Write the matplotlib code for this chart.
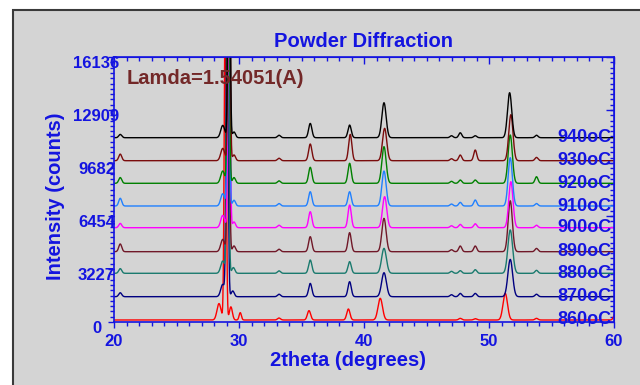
import numpy as np
import matplotlib
matplotlib.use("Agg")
import matplotlib.pyplot as plt
from matplotlib.patches import Rectangle
from matplotlib.ticker import MultipleLocator, FixedLocator
from matplotlib.transforms import ScaledTranslation

plt.rcParams['font.family'] = ['Liberation Sans', 'DejaVu Sans']
plt.rcParams['font.weight'] = 'bold'

# temperatures, curve offsets (counts) and curve colours, bottom to top
temps = ["860oC", "870oC", "880oC", "890oC", "900oC", "910oC", "920oC", "930oC", "940oC"]
baselines = [122, 1541, 2965, 4281, 5742, 7063, 8445, 9822, 11222]
colors = ['#ff0000', '#000080', '#1a7a6e', '#701828', '#ff00ff',
          '#2080ff', '#008000', '#7a0c0c', '#000000']

# peaks: (2theta, height above baseline, width)
peaks_860 = [(28.4, 1000, 0.16), (28.9, 20000, 0.08), (29.35, 800, 0.12), (30.1, 450, 0.09),
             (33.2, 120, 0.12), (35.6, 570, 0.13), (38.75, 670, 0.13), (41.3, 1320, 0.18),
             (47.7, 100, 0.12), (48.9, 80, 0.12), (51.3, 1620, 0.18), (53.8, 100, 0.12),
             (60.15, 500, 0.14)]
peaks_870 = [(20.5, 240, 0.12), (28.7, 750, 0.16), (29.05, 20000, 0.08), (29.5, 350, 0.12),
             (33.2, 150, 0.12), (35.7, 810, 0.13), (38.85, 915, 0.13), (41.6, 1460, 0.19),
             (47.0, 120, 0.12), (47.7, 200, 0.12), (48.9, 200, 0.12), (51.7, 2270, 0.19),
             (53.8, 150, 0.12)]
peaks_880 = [(20.5, 285, 0.12), (28.7, 750, 0.16), (29.1, 20000, 0.08), (29.55, 350, 0.12),
             (33.2, 150, 0.12), (35.7, 810, 0.13), (38.85, 710, 0.13), (41.6, 1520, 0.19),
             (47.0, 120, 0.12), (47.7, 160, 0.12), (48.9, 220, 0.12), (51.7, 2640, 0.19),
             (53.8, 180, 0.12)]
peaks_890 = [(20.5, 470, 0.12), (28.7, 750, 0.16), (29.15, 20000, 0.08), (29.6, 350, 0.12),
             (33.2, 150, 0.12), (35.7, 915, 0.13), (38.85, 1160, 0.13), (41.6, 2030, 0.17),
             (47.0, 120, 0.12), (47.7, 345, 0.12), (48.9, 345, 0.12), (51.7, 3100, 0.17),
             (53.8, 200, 0.12)]
peaks_900 = [(20.5, 260, 0.12), (28.7, 750, 0.16), (29.2, 20000, 0.08), (29.6, 350, 0.12),
             (33.2, 150, 0.12), (35.7, 975, 0.13), (38.85, 1380, 0.13), (41.65, 1890, 0.17),
             (47.0, 120, 0.12), (47.7, 200, 0.12), (48.9, 240, 0.12), (51.75, 2800, 0.17),
             (53.8, 150, 0.12)]
peaks_910 = [(20.5, 470, 0.12), (28.7, 750, 0.16), (29.15, 20000, 0.08), (29.6, 350, 0.12),
             (33.2, 150, 0.12), (35.7, 870, 0.13), (38.85, 870, 0.13), (41.6, 2130, 0.17),
             (47.0, 120, 0.12), (47.7, 220, 0.12), (48.9, 365, 0.12), (51.7, 2940, 0.17),
             (53.8, 150, 0.12)]
peaks_920 = [(20.5, 350, 0.12), (28.7, 750, 0.16), (29.15, 20000, 0.08), (29.6, 350, 0.12),
             (33.2, 150, 0.12), (35.7, 975, 0.13), (38.85, 1220, 0.13), (41.6, 2230, 0.17),
             (47.0, 120, 0.12), (47.7, 200, 0.12), (48.9, 200, 0.12), (51.7, 2940, 0.17),
             (53.8, 400, 0.12)]
peaks_930 = [(20.5, 400, 0.12), (28.7, 750, 0.16), (29.2, 20000, 0.08), (29.6, 350, 0.12),
             (33.2, 150, 0.12), (35.7, 1015, 0.13), (38.9, 1600, 0.13), (41.65, 1970, 0.17),
             (47.0, 120, 0.12), (47.7, 345, 0.12), (48.9, 650, 0.12), (51.75, 2800, 0.17),
             (53.8, 200, 0.12)]
peaks_940 = [(20.5, 200, 0.12), (28.7, 750, 0.16), (29.2, 20000, 0.08), (29.6, 350, 0.12),
             (33.2, 150, 0.12), (35.7, 870, 0.13), (38.85, 770, 0.13), (41.6, 2130, 0.17),
             (47.0, 120, 0.12), (47.7, 300, 0.12), (48.9, 120, 0.12), (51.65, 2740, 0.17),
             (53.8, 150, 0.12)]
peak_tables = [peaks_860, peaks_870, peaks_880, peaks_890, peaks_900,
               peaks_910, peaks_920, peaks_930, peaks_940]

ytick_vals = [0, 3227, 6454, 9682, 12909, 16136]
xtick_vals = [20, 30, 40, 50, 60]

blue = '#1414e0'
bg = '#d4d4d4'

fig = plt.figure(figsize=(6.4, 3.85), dpi=100, facecolor='white')
fig.patches.append(Rectangle((13 / 640, -0.01), 1.0, 1 - 10 / 385 + 0.01,
                             transform=fig.transFigure, facecolor=bg,
                             edgecolor='#3a3a3a', lw=1.5, zorder=-5))

ax = fig.add_axes([114 / 640, 1 - 322 / 385, 500 / 640, 265 / 385])
ax.set_facecolor(bg)

tt = np.linspace(20, 60.5, 4051)
for base, pk, col in zip(baselines, peak_tables, colors):
    y = np.full_like(tt, float(base))
    for pos, h, w in pk:
        y += h * np.exp(-0.5 * ((tt - pos) / w) ** 2)
    ax.plot(tt, y, color=col, lw=1.0)

for base, name in zip(baselines, temps):
    ax.text(59.8, base, name, color=blue, fontsize=13, fontweight='bold',
            ha='right', va='center', zorder=10)

ax.set_xlim(20, 60)
ax.set_ylim(0, 16136)

for sp in ax.spines.values():
    sp.set_color(blue)
    sp.set_linewidth(1.2)

ax.xaxis.set_major_locator(FixedLocator(xtick_vals))
ax.xaxis.set_minor_locator(MultipleLocator(1))
ax.yaxis.set_major_locator(FixedLocator(ytick_vals))
ax.yaxis.set_minor_locator(MultipleLocator(16136 / 50))
ax.set_yticklabels([str(v) for v in ytick_vals])
ax.set_xticklabels([str(v) for v in xtick_vals])

ax.tick_params(axis='both', which='both', direction='out', color=blue,
               labelcolor=blue, labelsize=12, width=1)
ax.tick_params(axis='both', which='major', length=4)
ax.tick_params(axis='both', which='minor', length=3)
ax.tick_params(axis='y', pad=8.6)
ax.tick_params(axis='x', pad=5)
for lab in ax.get_yticklabels() + ax.get_xticklabels():
    lab.set_fontweight('bold')
# y labels are centred on one column, a little below their ticks
off = ScaledTranslation(0, -5 / 100, fig.dpi_scale_trans)
for lab in ax.get_yticklabels():
    lab.set_horizontalalignment('center')
    lab.set_transform(lab.get_transform() + off)

# inward ticks on top and right
top = ax.secondary_xaxis('top')
top.xaxis.set_major_locator(FixedLocator(xtick_vals))
top.xaxis.set_minor_locator(MultipleLocator(1))
top.tick_params(which='both', direction='in', color=blue, labeltop=False, width=1)
top.tick_params(which='major', length=5)
top.tick_params(which='minor', length=3)
top.spines['top'].set_color(blue)

right = ax.secondary_yaxis('right')
right.yaxis.set_major_locator(FixedLocator(ytick_vals))
right.yaxis.set_minor_locator(MultipleLocator(16136 / 50))
right.tick_params(which='both', direction='in', color=blue, labelright=False, width=1)
right.tick_params(which='major', length=6)
right.tick_params(which='minor', length=3)
right.spines['right'].set_color(blue)

ax.set_title("Powder Diffraction", color=blue, fontsize=14.5, fontweight='bold', pad=7)
ax.set_xlabel("2theta (degrees)", color=blue, fontsize=14.5, fontweight='bold')
ax.xaxis.set_label_coords(0.468, -0.108)
ax.set_ylabel("Intensity (counts)", color=blue, fontsize=14.5, fontweight='bold')
ax.yaxis.set_label_coords(-0.098, 0.475)

ax.text(0.026, 0.917, "Lamda=1.54051(A)", transform=ax.transAxes, color='#732828',
        fontsize=14.5, fontweight='bold', ha='left', va='center', zorder=11)

fig.savefig("out.png", dpi=100, facecolor='white')
